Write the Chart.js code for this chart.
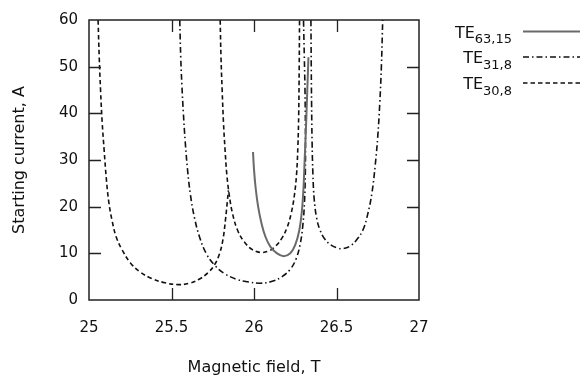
<!DOCTYPE html>
<html>
<head>
<meta charset="utf-8">
<script src="https://cdn.jsdelivr.net/npm/chart.js@4.4.1/dist/chart.umd.min.js"></script>
<style>
  html, body { margin: 0; padding: 0; background: #fff; }
  #wrap { width: 580px; height: 376px; }
</style>
</head>
<body>
<div id="wrap"><canvas id="chart" width="580" height="376"></canvas></div>
<script>
// magnetic field (T) / starting current (A)
let te63_15_B = [25.994, 26.0, 26.01, 26.025, 26.045, 26.07, 26.10, 26.14, 26.18, 26.22, 26.25, 26.275, 26.29, 26.30, 26.307, 26.314, 26.32, 26.326, 26.33];
let te63_15_I = [31.7, 28, 24, 20, 16.5, 13.5, 11.4, 10, 9.4, 10, 11.8, 15, 19, 24, 30, 36, 42, 48, 52];

let te31_8a_B = [25.55, 25.556, 25.563, 25.572, 25.583, 25.597, 25.615, 25.64, 25.67, 25.71, 25.76, 25.82, 25.89, 25.96, 26.04, 26.11, 26.17, 26.22, 26.255, 26.28, 26.296, 26.306, 26.311, 26.312, 26.309, 26.305, 26.30];
let te31_8a_I = [60, 52, 46, 40, 34, 28, 22.5, 17.5, 13.5, 10, 7.5, 5.7, 4.5, 3.9, 3.6, 4.0, 5.0, 6.6, 8.8, 12, 16, 21, 27, 35, 45, 52, 60];

let te31_8b_B = [26.345, 26.347, 26.349, 26.352, 26.357, 26.365, 26.38, 26.40, 26.43, 26.47, 26.51, 26.54, 26.58, 26.62, 26.66, 26.69, 26.715, 26.735, 26.75, 26.762, 26.772, 26.78];
let te31_8b_I = [60, 50, 42, 34, 27, 21.5, 17.5, 15, 13, 11.7, 11.1, 11, 11.5, 12.8, 15, 18.5, 23, 29, 35, 42, 50, 60];

let te30_8a_B = [25.055, 25.062, 25.07, 25.08, 25.092, 25.105, 25.12, 25.14, 25.165, 25.20, 25.25, 25.31, 25.38, 25.46, 25.54, 25.61, 25.67, 25.72, 25.76, 25.79, 25.812, 25.828, 25.838, 25.845];
let te30_8a_I = [60, 52, 45, 38, 32, 26, 21, 17, 13.5, 10.8, 8, 6, 4.6, 3.7, 3.3, 3.6, 4.5, 5.8, 7.5, 9.8, 13, 17.5, 21, 23.5];

let te30_8b_B = [25.795, 25.80, 25.807, 25.815, 25.825, 25.835, 25.85, 25.87, 25.90, 25.94, 25.99, 26.04, 26.09, 26.13, 26.17, 26.20, 26.225, 26.245, 26.258, 26.266, 26.271, 26.274, 26.276];
let te30_8b_I = [60, 52, 45, 38, 32, 27, 22.5, 18.5, 15, 12.5, 10.8, 10.2, 10.5, 11.5, 13.3, 15.5, 18.5, 22.5, 27, 33, 40, 50, 60];

let xTicks = [25, 25.5, 26, 26.5, 27];
let xTickLabels = ['25', '25.5', '26', '26.5', '27'];
let yTicks = [0, 10, 20, 30, 40, 50, 60];

let legendMain = ['TE', 'TE', 'TE'];
let legendSub = ['63,15', '31,8', '30,8'];

const FONT = "'DejaVu Sans', sans-serif";
const solidStyle = { color: '#6a6a6a', width: 2, dash: [] };
const dashDotStyle = { color: '#111', width: 1.6, dash: [6, 3, 1.5, 3] };
const dashStyle = { color: '#111', width: 1.6, dash: [4.5, 3] };

function pts(bs, is) {
  return bs.map((b, i) => ({ x: b, y: is[i] }));
}

function curve(bs, is, st) {
  return {
    data: pts(bs, is),
    showLine: true,
    borderColor: st.color,
    borderWidth: st.width,
    borderDash: st.dash,
    pointRadius: 0,
    tension: 0.4,
    fill: false
  };
}

// inward ticks on all four sides + box
const frameAndTicks = {
  id: 'frameAndTicks',
  afterDatasetsDraw(c) {
    let { ctx, chartArea: a, scales: { x, y } } = c;
    let len = 12;
    ctx.save();
    ctx.strokeStyle = '#222';
    ctx.lineWidth = 1.3;
    ctx.beginPath();
    x.ticks.forEach(t => {
      if (t.value <= x.min || t.value >= x.max) return;
      let px = Math.round(x.getPixelForValue(t.value)) + 0.5;
      ctx.moveTo(px, a.bottom); ctx.lineTo(px, a.bottom - len);
      ctx.moveTo(px, a.top); ctx.lineTo(px, a.top + len);
    });
    y.ticks.forEach(t => {
      if (t.value <= y.min || t.value >= y.max) return;
      let py = Math.round(y.getPixelForValue(t.value)) + 0.5;
      ctx.moveTo(a.left, py); ctx.lineTo(a.left + len, py);
      ctx.moveTo(a.right, py); ctx.lineTo(a.right - len, py);
    });
    ctx.stroke();
    ctx.lineWidth = 1.5;
    ctx.strokeRect(a.left, a.top, a.right - a.left, a.bottom - a.top);
    ctx.restore();
  }
};

// gnuplot-like key with subscripts
const keyBox = {
  id: 'keyBox',
  afterDraw(c) {
    let ctx = c.ctx;
    let styles = [solidStyle, dashDotStyle, dashStyle];
    let rows = [31.5, 57, 83];
    let textRight = 512;
    ctx.save();
    rows.forEach((ly, i) => {
      ctx.fillStyle = '#111';
      ctx.textBaseline = 'alphabetic';
      ctx.textAlign = 'left';
      ctx.font = '13px ' + FONT;
      let sw = ctx.measureText(legendSub[i]).width;
      ctx.font = '16px ' + FONT;
      let mw = ctx.measureText(legendMain[i]).width;
      ctx.fillText(legendMain[i], textRight - sw - mw, ly + 6);
      ctx.font = '13px ' + FONT;
      ctx.fillText(legendSub[i], textRight - sw, ly + 11.5);

      let st = styles[i];
      ctx.strokeStyle = st.color;
      ctx.lineWidth = st.width;
      ctx.setLineDash(st.dash);
      ctx.beginPath();
      ctx.moveTo(523, ly);
      ctx.lineTo(580, ly);
      ctx.stroke();
      ctx.setLineDash([]);
    });
    ctx.restore();
  }
};

new Chart(document.getElementById('chart'), {
  type: 'scatter',
  data: {
    datasets: [
      curve(te63_15_B, te63_15_I, solidStyle),
      curve(te31_8a_B, te31_8a_I, dashDotStyle),
      curve(te31_8b_B, te31_8b_I, dashDotStyle),
      curve(te30_8a_B, te30_8a_I, dashStyle),
      curve(te30_8b_B, te30_8b_I, dashStyle)
    ]
  },
  options: {
    responsive: false,
    animation: false,
    devicePixelRatio: 1,
    layout: { padding: { left: 0, right: 161, top: 18, bottom: 0 } },
    plugins: {
      legend: { display: false },
      tooltip: { enabled: false }
    },
    scales: {
      x: {
        type: 'linear',
        position: 'bottom',
        min: 25,
        max: 27,
        afterFit: s => { s.height = 76; },
        afterBuildTicks: s => { s.ticks = xTicks.map(v => ({ value: v })); },
        grid: { display: false, drawTicks: false },
        border: { display: false },
        ticks: {
          padding: 19,
          color: '#111',
          font: { family: FONT, size: 15 },
          callback: (v) => {
            let k = xTicks.findIndex(t => Math.abs(t - v) < 1e-9);
            return k < 0 ? '' : xTickLabels[k];
          }
        },
        title: {
          display: true,
          text: 'Magnetic field, T',
          color: '#111',
          font: { family: FONT, size: 16, lineHeight: 1 },
          padding: { top: 0, bottom: 0.5 }
        }
      },
      y: {
        type: 'linear',
        min: 0,
        max: 60,
        afterFit: s => { s.width = 89; },
        afterBuildTicks: s => { s.ticks = yTicks.map(v => ({ value: v })); },
        grid: { display: false, drawTicks: false },
        border: { display: false },
        ticks: {
          padding: 11,
          color: '#111',
          font: { family: FONT, size: 15 }
        },
        title: {
          display: true,
          text: 'Starting current, A',
          color: '#111',
          font: { family: FONT, size: 16 },
          padding: { top: 10, bottom: 0 }
        }
      }
    }
  },
  plugins: [frameAndTicks, keyBox]
});
</script>
</body>
</html>
